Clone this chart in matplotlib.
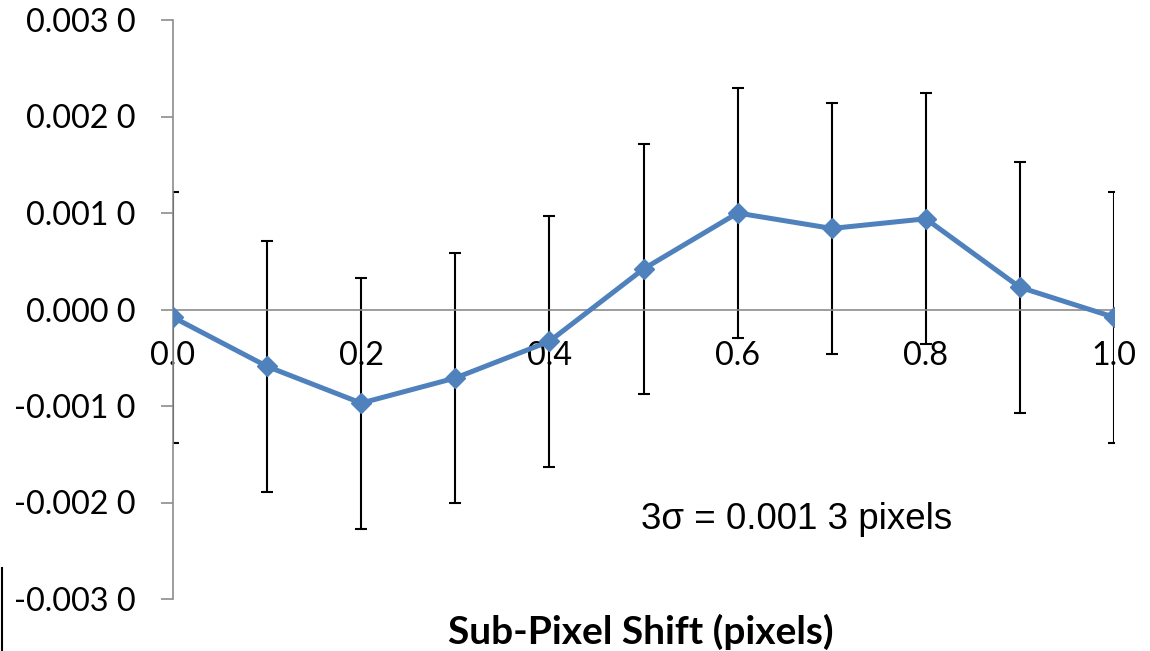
import matplotlib.pyplot as plt
from matplotlib.lines import Line2D
from matplotlib.ticker import FuncFormatter

# Données
decalage = [0.0, 0.1, 0.2, 0.3, 0.4, 0.5, 0.6, 0.7, 0.8, 0.9, 1.0]
erreur_moy = [-0.00008, -0.00059, -0.00097, -0.00071, -0.00033, 0.00042,
              0.00100, 0.00084, 0.00094, 0.00023, -0.00008]
barre_err = [0.0013] * len(decalage)

x_ticks = [0.0, 0.2, 0.4, 0.6, 0.8, 1.0]
y_ticks = [-0.003, -0.002, -0.001, 0.0, 0.001, 0.002, 0.003]


def format_y(v, pos):
    # style "0.001 0" : espace avant le dernier chiffre
    s = f"{v:.4f}"
    if s.startswith("-0.0000"):
        s = s[1:]
    return s[:-1] + " " + s[-1]


fig = plt.figure(figsize=(11.5, 6.51), dpi=100)
ax = fig.add_axes([173 / 1150, 1 - 599 / 651, (1114 - 173) / 1150, (599 - 20) / 651])

bleu = '#4F81BD'
gris = '#8C8C8C'

ax.errorbar(decalage, erreur_moy, yerr=barre_err, fmt='none', ecolor='black',
            elinewidth=1.5, capsize=4.5, capthick=1.5, zorder=2)
ax.plot(decalage, erreur_moy, color=bleu, linewidth=3.6, marker='D',
        markersize=10.5, zorder=3)

ax.set_xlim(0, 1.0)
ax.set_ylim(-0.003, 0.003)

ax.spines['top'].set_visible(False)
ax.spines['right'].set_visible(False)
ax.spines['left'].set_color(gris)
ax.spines['left'].set_linewidth(1.2)
ax.spines['bottom'].set_position(('data', 0))
ax.spines['bottom'].set_color(gris)
ax.spines['bottom'].set_linewidth(1.2)

ax.set_yticks(y_ticks)
ax.yaxis.set_major_formatter(FuncFormatter(format_y))
ax.set_xticks(x_ticks)
ax.set_xticklabels([f"{v:.1f}" for v in x_ticks])

ax.tick_params(axis='y', length=9, width=1.2, color=gris, pad=18,
               labelsize=23.3, direction='out')
ax.tick_params(axis='x', length=0, pad=23, labelsize=23.3)
for lab in ax.get_xticklabels() + ax.get_yticklabels():
    lab.set_family('Lato')

ax.text(0.497, -0.00218, "3σ = 0.001 3 pixels", fontsize=26.5,
        family='Liberation Sans', va='center', ha='left')

fig.text(641 / 1150, 1 - 632 / 651, "Sub-Pixel Shift (pixels)", fontsize=28,
         fontweight='bold', family='Lato', ha='center', va='center')

# trait vertical coupé en bas à gauche
fig.add_artist(Line2D([1.5 / 1150, 1.5 / 1150], [0, 1 - 568 / 651],
                      color='black', linewidth=1.5, transform=fig.transFigure))

fig.savefig('out.png', dpi=100)
